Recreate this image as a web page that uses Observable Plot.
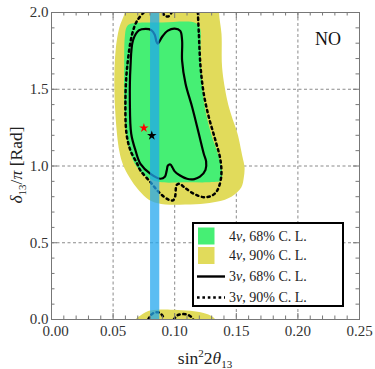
<!DOCTYPE html>
<html><head><meta charset="utf-8">
<script src="https://cdn.jsdelivr.net/npm/d3@7"></script>
<script src="https://cdn.jsdelivr.net/npm/@observablehq/plot@0.6"></script>
<style>body{margin:0;background:#fff}#chart{width:375px;height:369px}
#chart svg, #chart svg text {font-family: "Liberation Serif", "Times New Roman", "DejaVu Serif", serif !important;}</style>
</head><body><div id="chart"></div>
<script>
// ---- data ----
const xDomain = [0, 0.25];
const yDomain = [0, 2];
const xMajor = [0, 0.05, 0.10, 0.15, 0.20, 0.25];
const yMajor = [0, 0.5, 1.0, 1.5, 2.0];
const xGrid = [0.05, 0.10, 0.15, 0.20];
const yGrid = [0.5, 1.0, 1.5];
const xMinor = [0.01,0.02,0.03,0.04,0.06,0.07,0.08,0.09,0.11,0.12,0.13,0.14,0.16,0.17,0.18,0.19,0.21,0.22,0.23,0.24];
const yMinor = [0.1,0.2,0.3,0.4,0.6,0.7,0.8,0.9,1.1,1.2,1.3,1.4,1.6,1.7,1.8,1.9];

// 4nu 90% C.L. (yellow) region, main part and wrapped bottom piece
const yellowMain = [[0.137,2.10],[0.136,2.0],[0.138,1.86],[0.1385,1.64],[0.1426,1.43],[0.146,1.33],[0.151,1.21],[0.155,1.06],[0.1567,0.99],[0.156,0.92],[0.154,0.86],[0.146,0.80],[0.135,0.768],[0.121,0.752],[0.10,0.748],[0.089,0.752],[0.079,0.78],[0.071,0.84],[0.063,0.93],[0.058,1.01],[0.055,1.10],[0.052,1.32],[0.051,1.53],[0.052,1.75],[0.055,1.90],[0.0595,2.0],[0.061,2.10]];
const yellowLow = [[0.066,-0.05],[0.0682,0.0],[0.0722,0.026],[0.0763,0.048],[0.0804,0.059],[0.0966,0.064],[0.121,0.048],[0.129,0.026],[0.133,0.0],[0.135,-0.05]];
// 4nu 68% C.L. (green) region
const greenMain = [[0.064,1.926],[0.09,1.935],[0.117,1.932],[0.1205,1.90],[0.121,1.75],[0.122,1.55],[0.1245,1.38],[0.1295,1.21],[0.135,1.08],[0.1385,0.96],[0.1375,0.905],[0.13,0.895],[0.11,0.894],[0.088,0.895],[0.080,0.915],[0.072,0.965],[0.066,1.04],[0.0615,1.17],[0.059,1.43],[0.059,1.64],[0.0595,1.84],[0.061,1.905]];
// 3nu 68% C.L. (solid) contour
const solid68 = [[0.0709,1.883],[0.0662,1.82],[0.0641,1.644],[0.0636,1.427],[0.0647,1.21],[0.0682,1.101],[0.0722,1.014],[0.0804,0.949],[0.0885,0.917],[0.092,0.93],[0.0935,0.97],[0.0945,1.003],[0.0965,1.01],[0.0982,0.99],[0.100,0.965],[0.104,0.94],[0.110,0.917],[0.1160,0.915],[0.1205,0.93],[0.1250,0.975],[0.1255,1.03],[0.1236,1.080],[0.1196,1.21],[0.1142,1.383],[0.1088,1.536],[0.106,1.687],[0.106,1.818],[0.1045,1.880],[0.100,1.895],[0.0945,1.882],[0.0898,1.842],[0.0875,1.81],[0.0862,1.797],[0.0852,1.81],[0.0838,1.855],[0.081,1.885],[0.0765,1.893]];
// 3nu 90% C.L. (dotted) contour pieces
const dotted90 = [[0.0749,2.0],[0.0696,1.948],[0.0655,1.861],[0.0614,1.644],[0.060,1.427],[0.0609,1.21],[0.0641,1.101],[0.0696,1.014],[0.0722,0.971],[0.0804,0.894],[0.0885,0.819],[0.0952,0.780],[0.0985,0.776],[0.1003,0.80],[0.1008,0.84],[0.1015,0.875],[0.104,0.884],[0.108,0.86],[0.1155,0.819],[0.1236,0.797],[0.1304,0.808],[0.1345,0.840],[0.1377,0.927],[0.1372,1.036],[0.1331,1.166],[0.1277,1.318],[0.1236,1.470],[0.121,1.644],[0.1196,1.861],[0.1188,2.0]];
const dottedTop = [[0.0905,2.0],[0.092,1.978],[0.095,1.975],[0.0975,2.0]];
const dottedLowA = [[0.0785,0.0],[0.0804,0.026],[0.0835,0.045],[0.0875,0.045],[0.0905,0.02],[0.0912,0.0]];
const dottedLowB = [[0.0993,0.0],[0.102,0.026],[0.106,0.035],[0.1115,0.028],[0.114,0.011],[0.115,0.0]];
// vertical band (reactor sin^2 2theta13 range)
const band = [{x1: 0.0804, x2: 0.0879}];
// best-fit points
const best4nu = [[0.075, 1.248]];
const best3nu = [[0.0814, 1.198]];

// ---- colours ----
const cYellow = "#e1db5b", cGreen = "#46ef74", cBand = "#22a6ed";
const serif = "Liberation Serif, Times New Roman, DejaVu Serif, serif";

const W = 375, H = 369, mL = 51, mR = 16, mT = 12, mB = 50;
const fw = W - mL - mR, fh = H - mT - mB;
const px = d => d[0], py = d => d[1];
const dotStyle = {stroke: "black", strokeWidth: 2.5, strokeDasharray: "2.2,3.6", curve: "catmull-rom", clip: true};

const plot = Plot.plot({
  width: W, height: H, marginLeft: mL, marginRight: mR, marginTop: mT, marginBottom: mB,
  x: {domain: xDomain, axis: null},
  y: {domain: yDomain, axis: null},
  style: {fontFamily: serif, fontSize: "15px", background: "white", color: "#222"},
  marks: [
    Plot.ruleX(xGrid, {x: d => d, stroke: "#8a8a8a", strokeDasharray: "3,2.5", strokeWidth: 1}),
    Plot.ruleY(yGrid, {y: d => d, stroke: "#8a8a8a", strokeDasharray: "3,2.5", strokeWidth: 1}),
    Plot.line(yellowMain, {x: px, y: py, fill: cYellow, stroke: "none", curve: "catmull-rom-closed", clip: true}),
    Plot.line(yellowLow, {x: px, y: py, fill: cYellow, stroke: "none", curve: "catmull-rom-closed", clip: true}),
    Plot.line(greenMain, {x: px, y: py, fill: cGreen, stroke: "none", curve: "catmull-rom-closed", clip: true}),
    Plot.line(solid68, {x: px, y: py, stroke: "black", strokeWidth: 2.2, curve: "catmull-rom-closed", clip: true}),
    Plot.line(dotted90, {x: px, y: py, ...dotStyle}),
    Plot.line(dottedTop, {x: px, y: py, ...dotStyle}),
    Plot.line(dottedLowA, {x: px, y: py, ...dotStyle}),
    Plot.line(dottedLowB, {x: px, y: py, ...dotStyle}),
    Plot.rect(band, {x1: "x1", x2: "x2", y1: () => yDomain[0], y2: () => yDomain[1], fill: cBand, fillOpacity: 0.74}),
    Plot.dot(best4nu, {x: px, y: py, symbol: "star", fill: "red", r: 3}),
    Plot.dot(best3nu, {x: px, y: py, symbol: "star", fill: "black", r: 3}),
    // ticks (inward, all four sides)
    Plot.tickX(xMinor, {x: d => d, insetTop: fh - 3.5, stroke: "#777"}),
    Plot.tickX(xMinor, {x: d => d, insetBottom: fh - 3.5, stroke: "#777"}),
    Plot.tickX(xMajor, {x: d => d, insetTop: fh - 6, stroke: "#777"}),
    Plot.tickX(xMajor, {x: d => d, insetBottom: fh - 6, stroke: "#777"}),
    Plot.tickY(yMinor, {y: d => d, insetRight: fw - 3.5, stroke: "#777"}),
    Plot.tickY(yMinor, {y: d => d, insetLeft: fw - 3.5, stroke: "#777"}),
    Plot.tickY(yMajor, {y: d => d, insetRight: fw - 6, stroke: "#777"}),
    Plot.tickY(yMajor, {y: d => d, insetLeft: fw - 6, stroke: "#777"}),
    Plot.frame({stroke: "#777", strokeWidth: 1}),
    // tick labels
    Plot.text(xMajor.slice(0, 1), {x: d => d, frameAnchor: "bottom", dx: 4, dy: 12, textAnchor: "middle", lineAnchor: "middle", text: d => d.toFixed(2), fill: "#333", fontFamily: serif}),
    Plot.text(xMajor.slice(1), {x: d => d, frameAnchor: "bottom", dy: 12, textAnchor: "middle", lineAnchor: "middle", text: d => d.toFixed(2), fill: "#333", fontFamily: serif}),
    Plot.text(yMajor, {y: d => d, frameAnchor: "left", dx: -3, textAnchor: "end", lineAnchor: "middle", text: d => d.toFixed(1), fill: "#333", fontFamily: serif}),
    Plot.text(["NO"], {frameAnchor: "top-right", dx: -31.5, dy: 26.5, textAnchor: "middle", lineAnchor: "middle", text: d => d, fontSize: 18, fill: "#111", fontFamily: serif})
  ]
});
document.getElementById("chart").appendChild(plot);

// ---- axis labels and legend (SVG text with sub/superscripts) ----
const svg = d3.select(plot);
const xl = svg.append("text").attr("x", 205).attr("y", 364).attr("text-anchor", "middle")
  .style("font-family", serif).attr("font-size", 17.5).attr("fill", "#222");
xl.append("tspan").text("sin");
xl.append("tspan").attr("font-size", 11).attr("dy", -7).text("2");
xl.append("tspan").attr("dy", 7).text("2");
xl.append("tspan").attr("font-style", "italic").text("θ");
xl.append("tspan").attr("font-size", 11).attr("dy", 4).text("13");

const yl = svg.append("text").attr("transform", "translate(22,165) rotate(-90)").attr("text-anchor", "middle")
  .style("font-family", serif).attr("font-size", 17.5).attr("fill", "#222");
yl.append("tspan").attr("font-style", "italic").text("δ");
yl.append("tspan").attr("font-size", 11).attr("dy", 4).text("13");
yl.append("tspan").attr("dy", -4).text("/");
yl.append("tspan").attr("font-style", "italic").text("π");
yl.append("tspan").text(" [Rad]");

const legendItems = [
  {kind: "swatch", color: cGreen, label: ["4", "ν", ", 68% C. L."]},
  {kind: "swatch", color: cYellow, label: ["4", "ν", ", 90% C. L."]},
  {kind: "solid", color: "black", label: ["3", "ν", ", 68% C. L."]},
  {kind: "dotted", color: "black", label: ["3", "ν", ", 90% C. L."]}
];
const lg = svg.append("g").attr("transform", "translate(192,222)");
lg.append("rect").attr("x", 1).attr("y", 1).attr("width", 150).attr("height", 83)
  .attr("fill", "white").attr("stroke", "black").attr("stroke-width", 2);
const rowY = [14, 33.5, 54.5, 75.5];
legendItems.forEach((it, i) => {
  const cy = rowY[i];
  if (it.kind === "swatch") {
    lg.append("rect").attr("x", 6).attr("y", cy - 8.5).attr("width", 16.5).attr("height", 17).attr("fill", it.color);
  } else {
    lg.append("line").attr("x1", 5).attr("x2", 33).attr("y1", cy).attr("y2", cy)
      .attr("stroke", "black").attr("stroke-width", it.kind === "solid" ? 2.4 : 2.6)
      .attr("stroke-dasharray", it.kind === "dotted" ? "2.6,2.8" : null);
  }
  const t = lg.append("text").attr("x", 37).attr("y", cy).attr("dy", "0.35em").attr("text-anchor", "start")
    .style("font-family", serif).attr("font-size", 14).attr("fill", "#222");
  t.append("tspan").text(it.label[0]);
  t.append("tspan").attr("font-style", "italic").text(it.label[1]);
  t.append("tspan").text(it.label[2]);
});
</script>
</body></html>
